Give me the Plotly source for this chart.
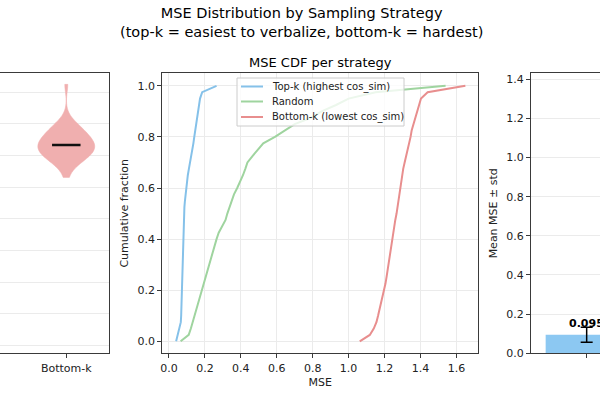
import numpy as np
import plotly.graph_objects as go

# ---------------- data ----------------
strategies = ["Top-k", "Random", "Bottom-k"]
legend_names = ["Top-k (highest cos_sim)", "Random", "Bottom-k (lowest cos_sim)"]

# sorted MSE samples (quantiles at equal fraction steps)
mse_topk = [0.040, 0.050, 0.060, 0.066, 0.068, 0.069, 0.070, 0.071, 0.071, 0.072,
            0.073, 0.073, 0.074, 0.075, 0.076, 0.077, 0.078, 0.079, 0.080, 0.081,
            0.083, 0.086, 0.089, 0.092, 0.096, 0.100, 0.105, 0.111, 0.118, 0.125,
            0.131, 0.136, 0.141, 0.146, 0.151, 0.157, 0.162, 0.167, 0.173, 0.185,
            0.265]
mse_random = [0.065, 0.110, 0.122, 0.132, 0.142, 0.152, 0.163, 0.173, 0.183, 0.195,
              0.206, 0.215, 0.224, 0.234, 0.244, 0.254, 0.265, 0.277, 0.295, 0.315,
              0.325, 0.336, 0.349, 0.362, 0.380, 0.397, 0.412, 0.425, 0.437, 0.465,
              0.497, 0.525, 0.590, 0.645, 0.700, 0.790, 0.850, 0.930, 1.000, 1.150,
              1.540]
mse_bottomk = [1.062, 1.118, 1.140, 1.155, 1.164, 1.173, 1.182, 1.191, 1.198, 1.205,
               1.211, 1.216, 1.222, 1.228, 1.233, 1.238, 1.244, 1.249, 1.255, 1.260,
               1.267, 1.272, 1.278, 1.284, 1.289, 1.294, 1.299, 1.304, 1.312, 1.321,
               1.330, 1.338, 1.345, 1.351, 1.361, 1.372, 1.384, 1.394, 1.403, 1.440,
               1.650]

bar_means = [0.095, 0.50, 1.28]
bar_stds = [0.038, 0.30, 0.09]

line_colors = ["#85c1e9", "#9fd49f", "#e88e8e"]
violin_colors = ["#a9d3f2", "#b9e0b9", "#f0afaf"]
bar_colors = ["#8cc8f2", "#a6daa6", "#f0a0a0"]

samples = [mse_topk, mse_random, mse_bottomk]

W, H = 600, 400
def px_x(p):
    return p / W
def px_y(p):
    return 1 - p / H

FONT = "DejaVu Sans"
AX_COLOR = "#3a3a3a"
GRID = "#ebebeb"

fig = go.Figure()

# ---------------- left: violins ----------------
for i, (name, s) in enumerate(zip(strategies, samples)):
    pos = i + 1
    fig.add_trace(go.Violin(
        x=[pos] * len(s), y=s, width=0.5, spanmode="hard", scalemode="width",
        points=False, box_visible=False, meanline_visible=False,
        fillcolor=violin_colors[i], line=dict(color=violin_colors[i], width=0.5),
        opacity=1, showlegend=False, xaxis="x", yaxis="y", hoverinfo="skip"))
    med = float(np.median(s))
    fig.add_trace(go.Scatter(
        x=[pos - 0.125, pos + 0.125], y=[med, med], mode="lines",
        line=dict(color="#111111", width=2.5), showlegend=False,
        xaxis="x", yaxis="y", hoverinfo="skip"))

# ---------------- middle: CDFs ----------------
for i, s in enumerate(samples):
    xs = np.sort(np.array(s))
    ys = np.linspace(0, 1, len(xs))
    fig.add_trace(go.Scatter(
        x=xs, y=ys, mode="lines", name=legend_names[i],
        line=dict(color=line_colors[i], width=2), showlegend=False,
        xaxis="x2", yaxis="y2"))

# ---------------- right: bars ----------------
fig.add_trace(go.Bar(
    x=[0, 1, 2], y=bar_means, width=0.8, marker=dict(color=bar_colors, line=dict(width=0)),
    error_y=dict(type="data", array=bar_stds, visible=True, color="black",
                 thickness=1.5, width=6),
    showlegend=False, xaxis="x3", yaxis="y3"))

annotations = []
for i, m in enumerate(bar_means):
    annotations.append(dict(
        x=i, y=m + 0.012, xref="x3", yref="y3", text=f"<b>{m:.3f}</b>",
        showarrow=False, yanchor="bottom", xanchor="center",
        font=dict(family=FONT, size=11, color="black")))

annotations.append(dict(
    x=0.503, y=px_y(22), xref="paper", yref="paper",
    text="MSE Distribution by Sampling Strategy<br>(top-k = easiest to verbalize, bottom-k = hardest)",
    showarrow=False, xanchor="center", yanchor="middle",
    font=dict(family=FONT, size=14.5, color="black")))
annotations.append(dict(
    x=px_x(320), y=px_y(62), xref="paper", yref="paper",
    text="MSE CDF per strategy", showarrow=False, xanchor="center", yanchor="middle",
    font=dict(family=FONT, size=13, color="black")))

# ---------------- legend box (matplotlib-style) ----------------
shapes = [dict(type="rect", xref="paper", yref="paper",
               x0=px_x(237), x1=px_x(404), y0=px_y(126), y1=px_y(78),
               fillcolor="rgba(255,255,255,0.8)", line=dict(color="#cccccc", width=1),
               layer="above")]
leg_rows = [86.5, 101.5, 117]
for i, name in enumerate(legend_names):
    yy = px_y(leg_rows[i])
    shapes.append(dict(type="line", xref="paper", yref="paper",
                       x0=px_x(241), x1=px_x(263), y0=yy, y1=yy,
                       line=dict(color=line_colors[i], width=2), layer="above"))
    annotations.append(dict(x=px_x(270), y=yy, xref="paper", yref="paper",
                            text=name, showarrow=False, xanchor="left", yanchor="middle",
                            font=dict(family=FONT, size=10, color="#222")))

top, bot = px_y(73.3), px_y(353.3)

common_axis = dict(showline=True, linecolor=AX_COLOR, linewidth=1, mirror=True,
                   ticks="outside", ticklen=4, tickcolor=AX_COLOR, automargin=False,
                   tickfont=dict(family=FONT, size=11, color="#222"), zeroline=False)

fig.update_layout(
    template="none",
    width=W, height=H,
    margin=dict(l=0, r=0, t=0, b=0),
    paper_bgcolor="white", plot_bgcolor="white",
    font=dict(family=FONT, color="#222"),
    annotations=annotations,
    shapes=shapes,
    showlegend=False,
    xaxis=dict(domain=[0, px_x(109)], range=[2.418, 3.375],
               tickvals=[1, 2, 3], ticktext=strategies, showgrid=False, **common_axis),
    yaxis=dict(domain=[bot, top], range=[-0.05, 1.72], dtick=0.2, anchor="x",
               showgrid=True, gridcolor=GRID, showticklabels=False, **common_axis),
    xaxis2=dict(domain=[px_x(162.3), px_x(478.3)], range=[-0.037, 1.722], anchor="y2",
                dtick=0.2, tickformat=".1f", showgrid=True, gridcolor=GRID,
                title=dict(text="MSE", font=dict(family=FONT, size=11), standoff=4),
                **common_axis),
    yaxis2=dict(domain=[bot, top], range=[-0.047, 1.049], anchor="x2",
                dtick=0.2, tickformat=".1f", showgrid=True, gridcolor=GRID,
                title=dict(text="Cumulative fraction", font=dict(family=FONT, size=11), standoff=6),
                **common_axis),
    xaxis3=dict(domain=[px_x(531), 1], range=[-0.543, 0.13], anchor="y3",
                tickvals=[0, 1, 2], ticktext=strategies, showgrid=False, **common_axis),
    yaxis3=dict(domain=[bot, top], range=[0, 1.43], anchor="x3",
                dtick=0.2, tickformat=".1f", showgrid=True, gridcolor=GRID,
                title=dict(text="Mean MSE ± std", font=dict(family=FONT, size=11), standoff=6),
                **common_axis),
    violinmode="overlay",
)

fig.write_html("out.html")
